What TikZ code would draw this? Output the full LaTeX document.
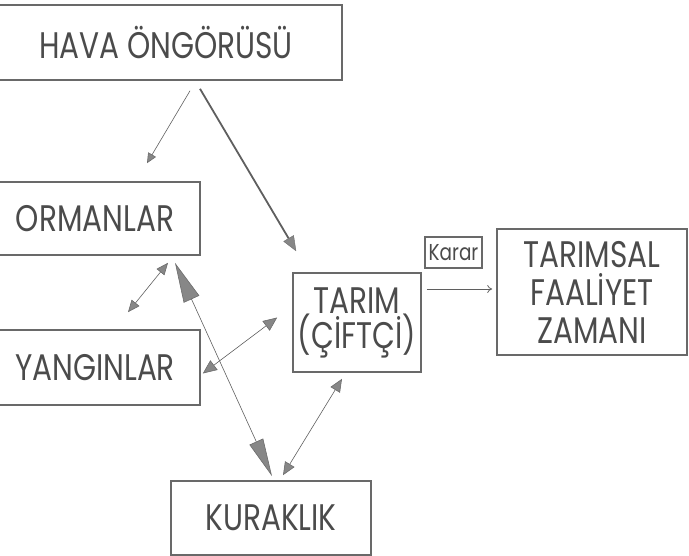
\documentclass[tikz,border=0pt]{standalone}
\usepackage{fontspec}
\setmainfont{Poppins}[FakeStretch=0.8]
\usepackage{xcolor}
\definecolor{boxgray}{RGB}{105,105,105}
\definecolor{textgray}{RGB}{75,75,75}
\definecolor{linegray}{RGB}{95,95,95}
\definecolor{tipgray}{RGB}{135,135,135}
\usetikzlibrary{arrows.meta,calc}

\begin{document}
\begin{tikzpicture}[x=1pt,y=-1pt,
      box/.style={draw=boxgray,line width=1.6pt,inner sep=0pt,
                  text=textgray,align=center,
                  font=\fontsize{37}{38}\selectfont},
      link/.style={draw=linegray,line width=0.6pt}]
      \useasboundingbox (0,0) rectangle (689,556);
      \clip (0,0) rectangle (689,556);
      % boxes
      \node[box,minimum width=352pt,minimum height=75pt] (hava) at (166,42.5) {HAVA ÖNGÖRÜSÜ};
      \node[box,minimum width=210pt,minimum height=73pt] (orman) at (95,218.5) {ORMANLAR};
      \node[box,minimum width=210pt,minimum height=75pt] (yangin) at (95,367.5) {YANGINLAR};
      \node[box,minimum width=128pt,minimum height=99pt,
            font=\fontsize{37}{35}\selectfont] (tarim) at (357,322.5) {TARIM\\(ÇİFTÇİ)};
      \node[box,line width=1.2pt,minimum width=57pt,minimum height=31pt,
            font=\fontsize{23}{24}\selectfont] (karar) at (453.5,252.5) {Karar};
      \node[box,minimum width=190pt,minimum height=126pt] (faaliyet) at (592,292) {TARIMSAL\\FAALİYET\\ZAMANI};
      \node[box,minimum width=200pt,minimum height=74pt] (kurak) at (271,518) {KURAKLIK};
      % connectors
      \draw[link,-{Triangle[length=10pt,width=9pt,fill=tipgray,color=tipgray!80!black]}]
        ([shift={(24,10)}]hava.south) -- ([shift={(52,-18)}]orman.north);
      \draw[link,line width=1.8pt,-{Triangle[length=15pt,width=12pt,fill=tipgray,color=tipgray!80!black,line width=0.4pt]}]
        ([shift={(34,8)}]hava.south) -- ([shift={(4,-21)}]tarim.north west);
      \draw[link,{Triangle[length=12pt,width=10pt,fill=tipgray,color=tipgray!80!black]}-{Triangle[length=12pt,width=10pt,fill=tipgray,color=tipgray!80!black]}]
        ([shift={(73,7)}]orman.south) -- ([shift={(33,-17)}]yangin.north);
      \draw[link,{Triangle[length=40pt,width=17pt,fill=tipgray,color=tipgray!80!black]}-{Triangle[length=38pt,width=15pt,fill=tipgray,color=tipgray!80!black]}]
        ([shift={(80,7)}]orman.south) -- ([shift={(1,-4)}]kurak.north);
      \draw[link,{Triangle[length=14pt,width=12pt,fill=tipgray,color=tipgray!80!black]}-{Triangle[length=14pt,width=12pt,fill=tipgray,color=tipgray!80!black]}]
        ([shift={(2,6)}]yangin.east) -- ([shift={(-15,-5)}]tarim.west);
      \draw[link,{Triangle[length=13pt,width=11pt,fill=tipgray,color=tipgray!80!black]}-{Triangle[length=13pt,width=11pt,fill=tipgray,color=tipgray!80!black]}]
        ([shift={(-15,6)}]tarim.south) -- ([shift={(12,-5)}]kurak.north);
      \draw[link,line width=0.8pt,-{To[length=5pt,width=8pt]}]
        ([shift={(5,-33.5)}]tarim.east) -- ([shift={(-4,-3)}]faaliyet.west);
    \end{tikzpicture}
\end{document}
